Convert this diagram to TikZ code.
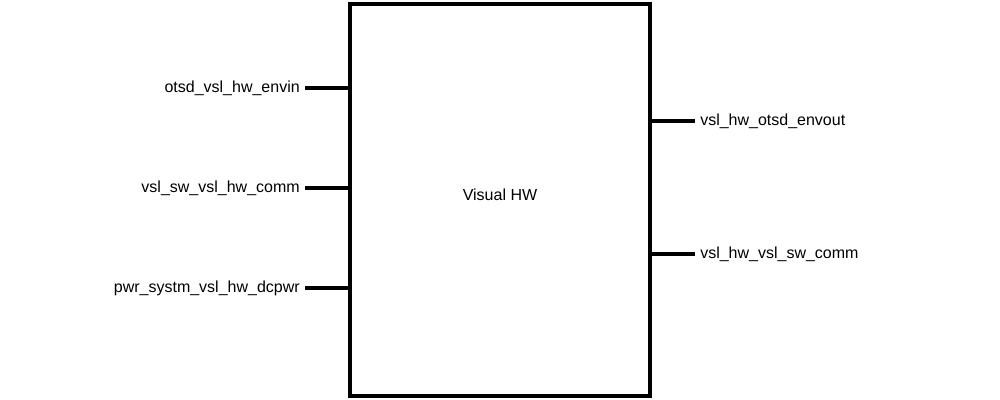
\documentclass[tikz,border=0pt]{standalone}
\usepackage{fontspec}
\setmainfont{Liberation Sans}
\usetikzlibrary{positioning}

\begin{document}
\begin{tikzpicture}[x = 0.75pt, y = -0.75pt, font = \fontsize{12}{14}\selectfont,
    block/.style = {shape = rectangle, draw, line width = 2.6pt, minimum width = 225pt, minimum height = 294pt, inner sep = 0pt},
    port/.style = {line width = 2.6pt},
    portname/.style = {inner sep = 3.75pt}]
    \useasboundingbox (0,0) rectangle (1000,400);
    \node [block, label = {[yshift = 3.75pt]center:Visual HW}] (hw) at (500,200) {};
    \coordinate (in1) at (305,88);
    \coordinate (in2) at (305,188);
    \coordinate (in3) at (305,288);
    \coordinate (out1) at (695,121);
    \coordinate (out2) at (695,254);
    \draw [port] (in1) -- (in1 -| hw.west);
    \draw [port] (in2) -- (in2 -| hw.west);
    \draw [port] (in3) -- (in3 -| hw.west);
    \draw [port] (out1) -- (out1 -| hw.east);
    \draw [port] (out2) -- (out2 -| hw.east);
    \node [portname, anchor = east] (N1) at (in1) {otsd\_vsl\_hw\_envin};
    \node [portname, anchor = east] (N2) at (in2) {vsl\_sw\_vsl\_hw\_comm};
    \node [portname, anchor = east] (N3) at (in3) {pwr\_systm\_vsl\_hw\_dcpwr};
    \node [portname, anchor = west] (N4) at (out1) {vsl\_hw\_otsd\_envout};
    \node [portname, anchor = west] (N5) at (out2) {vsl\_hw\_vsl\_sw\_comm};
\end{tikzpicture}
\end{document}
